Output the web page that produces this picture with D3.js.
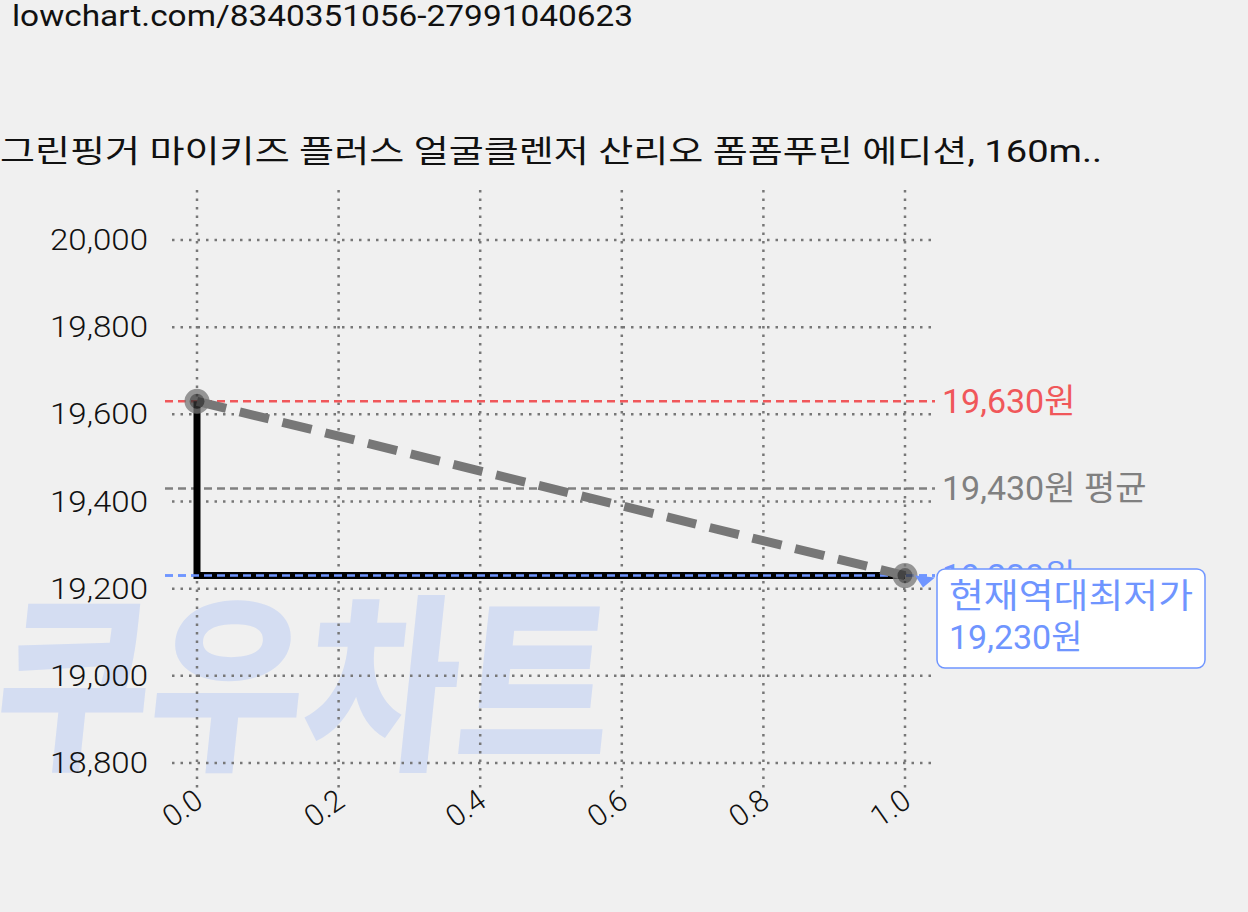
<!DOCTYPE html>
<html><head><meta charset="utf-8">
<script src="https://cdn.jsdelivr.net/npm/d3@7"></script>
<style>body{margin:0;background:#f0f0f0;}svg{display:block;}text{font-family:Roboto,"Noto Sans CJK KR",sans-serif;}</style>
</head><body>
<script>
const xs = [0, 1];
const prices = [19630, 19230];
const yTicks = [18800, 19000, 19200, 19400, 19600, 19800, 20000];
const xTicks = [0.0, 0.2, 0.4, 0.6, 0.8, 1.0];
const maxP = 19630, avgP = 19430, minP = 19230;
const title = "그린핑거 마이키즈 플러스 얼굴클렌저 산리오 폼폼푸린 에디션, 160m..";
const url = "lowchart.com/8340351056-27991040623";

const W = 1248, H = 912;
const svg = d3.select("body").append("svg").attr("width", W).attr("height", H);
const x = d3.scaleLinear().domain([0, 1]).range([197, 905]);
const y = d3.scaleLinear().domain([18800, 20000]).range([763, 240]);
const kor = "'Noto Sans CJK KR',sans-serif";

// watermark
svg.append("text").attr("x", 0).attr("y", 755).attr("font-size", 190).attr("font-weight", 900)
  .attr("transform", "skewX(-6) translate(70,0)").attr("fill", "#d4ddf2").attr("font-family", kor)
  .attr("textLength", 615).attr("lengthAdjust", "spacingAndGlyphs").text("쿠우차트");

svg.append("text").attr("x", 12).attr("y", 26).attr("font-size", 29).attr("fill", "#111").attr("font-family", kor)
  .attr("textLength", 621).attr("lengthAdjust", "spacingAndGlyphs").text(url);
svg.append("text").attr("x", 0).attr("y", 162).attr("font-size", 31).attr("fill", "#111").attr("font-family", kor)
  .attr("textLength", 1102).attr("lengthAdjust", "spacingAndGlyphs").text(title);

// grid
const g = svg.append("g");
yTicks.forEach(t => {
  g.append("line").attr("x1", 172).attr("x2", 932).attr("y1", y(t)).attr("y2", y(t))
    .attr("stroke", "#777").attr("stroke-width", 2.5).attr("stroke-dasharray", "2.5,6");
  g.append("text").attr("x", 148).attr("y", y(t) + 10).attr("text-anchor", "end").attr("font-size", 29).attr("font-weight", 300)
    .attr("fill", "#111").attr("textLength", 98).attr("lengthAdjust", "spacingAndGlyphs").text(d3.format(",")(t));
});
xTicks.forEach(t => {
  g.append("line").attr("x1", x(t)).attr("x2", x(t)).attr("y1", 190).attr("y2", 790)
    .attr("stroke", "#777").attr("stroke-width", 2.5).attr("stroke-dasharray", "2.5,6");
  g.append("text").attr("transform", `translate(${x(t)+8},${805}) rotate(-35)`).attr("text-anchor", "end")
    .attr("font-size", 30).attr("font-weight", 300).attr("fill", "#111").text(t.toFixed(1));
});

// reference lines
const refs = [[maxP, "#f0575a", "19,630원"], [avgP, "#808080", "19,430원 평균"], [minP, "#6f95ff", "19,230원"]];
refs.forEach(([v, c, lab]) => {
  svg.append("line").attr("x1", 165).attr("x2", 935).attr("y1", y(v)).attr("y2", y(v))
    .attr("stroke", c).attr("stroke-width", 2.5).attr("stroke-dasharray", "8,5");
  svg.append("text").attr("x", 942).attr("y", y(v) + 12).attr("font-size", 34).attr("fill", c).attr("font-family", kor).text(lab);
});

// step line
const pts = xs.map((v, i) => [v, prices[i]]);
svg.append("path").attr("d", d3.line().x(d => x(d[0])).y(d => y(d[1]))([[0, prices[0]], [0, prices[1]], [1, prices[1]]]))
  .attr("fill", "none").attr("stroke", "#000").attr("stroke-width", 7);
svg.append("line").attr("x1", 165).attr("x2", 935).attr("y1", y(minP)).attr("y2", y(minP))
  .attr("stroke", "#6f95ff").attr("stroke-width", 2.5).attr("stroke-dasharray", "8,5");
svg.append("path").attr("d", d3.line().x(d => x(d[0])).y(d => y(d[1]))(pts))
  .attr("fill", "none").attr("stroke", "#777").attr("stroke-width", 9).attr("stroke-dasharray", "30,14");
pts.forEach(p => svg.append("circle").attr("cx", x(p[0])).attr("cy", y(p[1])).attr("r", 10)
  .attr("fill", "#333").attr("stroke", "#777").attr("stroke-width", 5).attr("opacity", 0.75));

// annotation
svg.append("path").attr("d", `M${x(1)+10},${y(minP)} L${x(1)+30},${y(minP)+2} L${x(1)+18},${y(minP)+12}Z`).attr("fill", "#6f95ff");
svg.append("rect").attr("x", 937).attr("y", 569).attr("width", 268).attr("height", 99).attr("rx", 8)
  .attr("fill", "#fff").attr("stroke", "#6f95ff").attr("stroke-width", 1.5);
svg.append("text").attr("x", 949).attr("y", 608).attr("font-size", 34).attr("fill", "#6f95ff").attr("font-family", kor)
  .attr("textLength", 244).attr("lengthAdjust", "spacingAndGlyphs").text("현재역대최저가");
svg.append("text").attr("x", 949).attr("y", 649).attr("font-size", 34).attr("fill", "#6f95ff").attr("font-family", kor).text("19,230원");
</script>
</body></html>
